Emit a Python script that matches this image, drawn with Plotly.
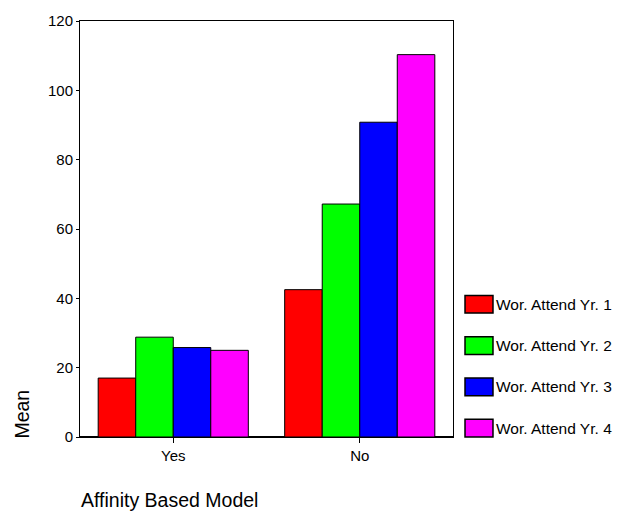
import plotly.graph_objects as go

categories = ["Yes", "No"]
series_names = ["Wor. Attend Yr. 1", "Wor. Attend Yr. 2", "Wor. Attend Yr. 3", "Wor. Attend Yr. 4"]
yr1 = [17.0, 42.5]
yr2 = [28.8, 67.2]
yr3 = [25.8, 90.8]
yr4 = [25.0, 110.3]
colors = ["#FF0000", "#00FF00", "#0000FF", "#FF00FF"]
y_ticks = [0, 20, 40, 60, 80, 100, 120]

fig = go.Figure()
for i, (name, vals) in enumerate(zip(series_names, [yr1, yr2, yr3, yr4])):
    fig.add_trace(go.Bar(
        x=categories, y=vals, name=name,
        marker=dict(color=colors[i], line=dict(color="black", width=1)),
    ))

font = "Liberation Sans, Arial, sans-serif"

TOP, BOTTOM = 14, 75
plot_h = 512.0 - TOP - BOTTOM


def py(pixel_y):
    """convert a pixel row of the page to paper coords"""
    return (512.0 - BOTTOM - pixel_y) / plot_h


# custom legend (larger swatches like the reference)
shapes = []
annotations = []
box_h = 18 / plot_h
for i, name in enumerate(series_names):
    yc = py(302 + i * 42)
    shapes.append(dict(type="rect", xref="paper", yref="paper",
                       x0=1.0322, x1=1.1072, y0=yc - box_h / 2, y1=yc + box_h / 2,
                       fillcolor=colors[i], line=dict(color="black", width=1.5)))
    annotations.append(dict(text=name, xref="paper", yref="paper", x=1.109, y=yc,
                            xanchor="left", yanchor="middle", showarrow=False,
                            font=dict(size=15.5)))

annotations += [
    dict(text="Mean", xref="paper", yref="paper", x=-0.155, y=py(414),
         xanchor="center", yanchor="middle", textangle=-90, showarrow=False,
         font=dict(size=19.5)),
    dict(text="Affinity Based Model", xref="paper", yref="paper", x=-0.003, y=py(501),
         xanchor="left", yanchor="middle", showarrow=False, font=dict(size=19.5)),
]

fig.update_layout(
    width=628, height=512,
    margin=dict(l=80, r=175, t=TOP, b=BOTTOM),
    paper_bgcolor="white", plot_bgcolor="white",
    barmode="group", bargap=0.195, bargroupgap=0,
    font=dict(family=font, size=15, color="black"),
    showlegend=False,
    xaxis=dict(showline=True, linecolor="black", linewidth=1, mirror=True,
               ticks="outside", ticklen=5, tickcolor="black", showgrid=False,
               tickfont=dict(size=15)),
    yaxis=dict(range=[0, 120], tickvals=y_ticks, showline=True, linecolor="black",
               linewidth=1, mirror=True, ticks="outside", ticklen=3, tickcolor="black",
               showgrid=False, zeroline=True, zerolinecolor="black", zerolinewidth=2,
               tickfont=dict(size=15)),
    shapes=shapes,
    annotations=annotations,
)
fig.write_html(
    "out.html",
    config={"displayModeBar": False},
    post_script=(
        "document.documentElement.style.margin='0';"
        "document.documentElement.style.overflow='hidden';"
        "document.body.style.margin='0';document.body.style.padding='0';"
        "document.body.style.overflow='hidden';"
    ),
)
